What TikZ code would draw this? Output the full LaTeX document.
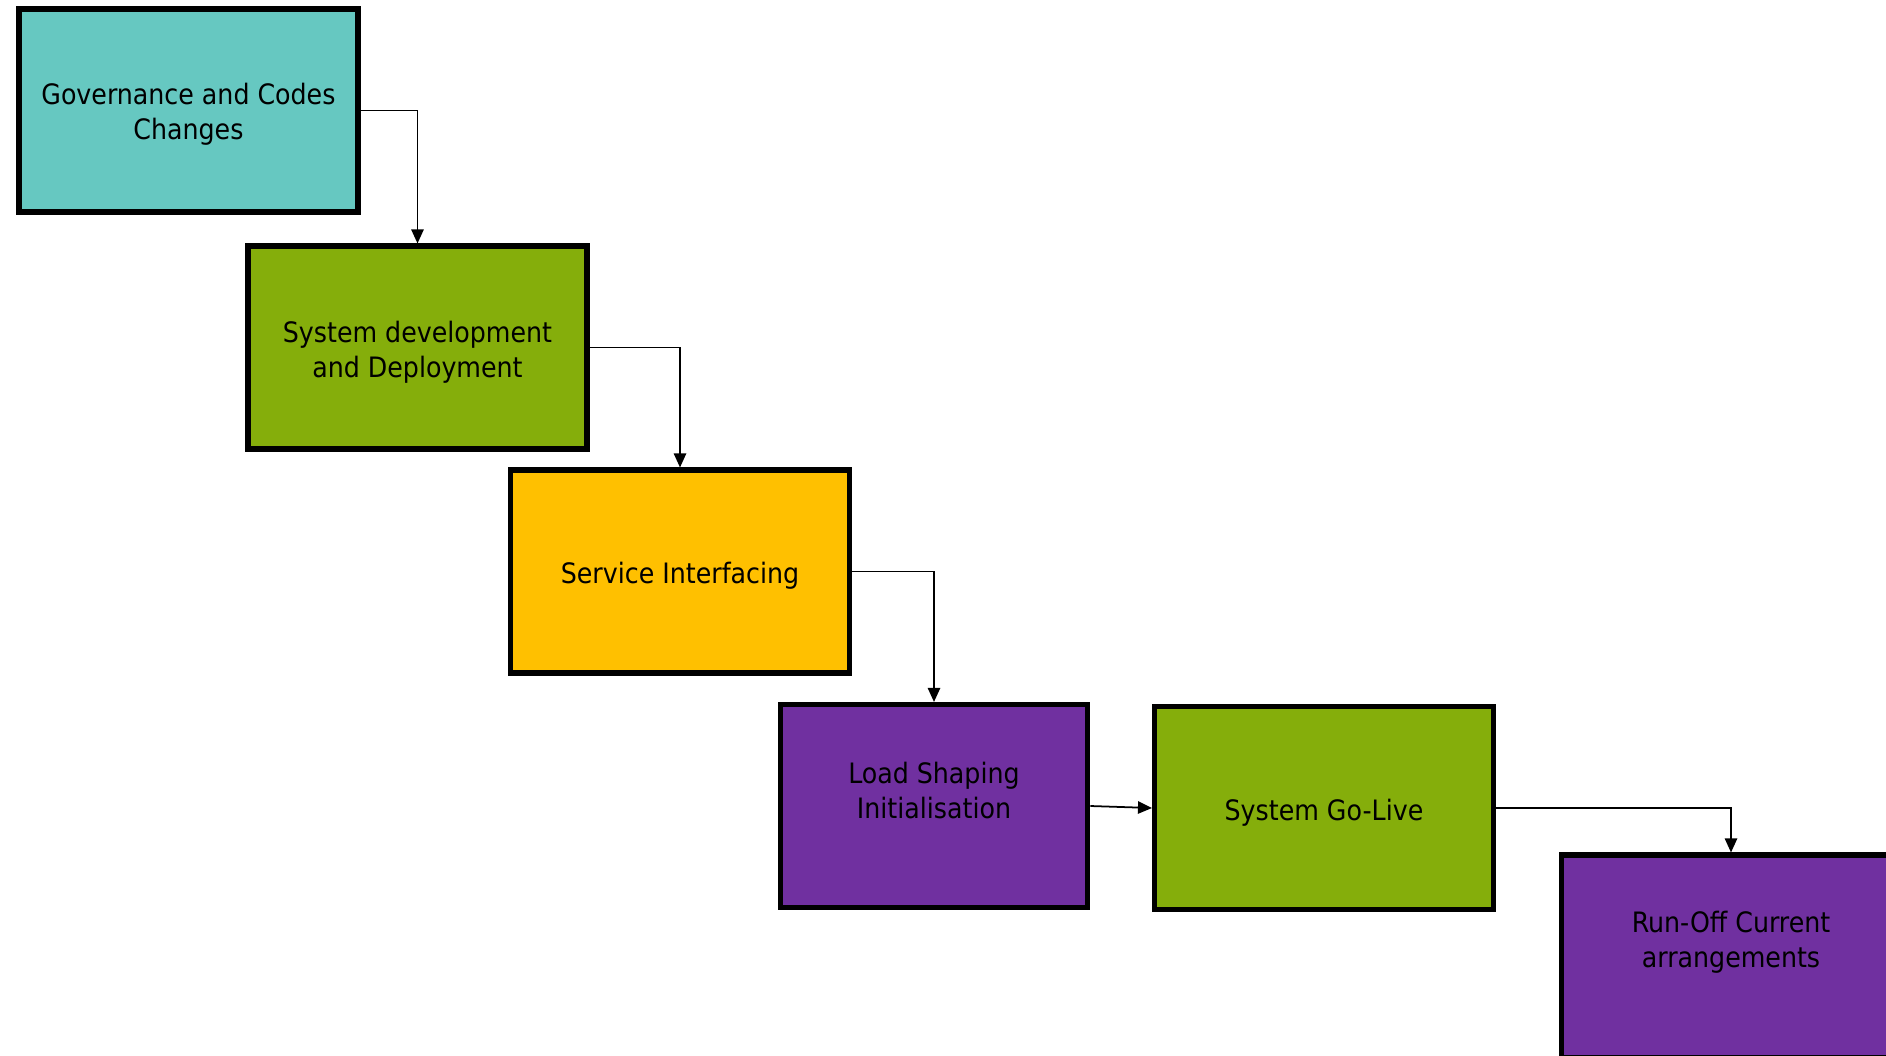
\documentclass[tikz,border=0pt]{standalone}
\usepackage{fontspec}
\setmainfont{DejaVu Sans Condensed}
\usetikzlibrary{arrows.meta}
\definecolor{govteal}{HTML}{66C8C1}
\definecolor{sysgreen}{HTML}{85AE0B}
\definecolor{svcamber}{HTML}{FFC000}
\definecolor{loadpurple}{HTML}{7030A0}

\begin{document}
\begin{tikzpicture}[x=0.02cm, y=-0.02cm,
	stage/.style={shape=rectangle, draw, line width=2.9pt, minimum width=6.78cm, minimum height=4.06cm, inner sep=0pt},
	stagetext/.style={anchor=center, align=center, font=\fontsize{16}{20}\selectfont, inner sep=0pt},
	flow/.style={line width=1pt, -{Triangle[length=8pt, width=7pt]}}]
	\useasboundingbox (0,0) rectangle (1886,1055);
	\clip (0,0) rectangle (1886,1055);
	% Boxes and texts:
	\node[stage, fill=govteal] (gov) at (188.5,110.5){} node[stagetext] (gov-text) at (188.5,114){Governance and Codes\\Changes};
	\node[stage, fill=sysgreen] (sysdev) at (417.5,347.5){} node[stagetext] (sysdev-text) at (417.5,352){System development\\and Deployment};
	\node[stage, fill=svcamber] (service) at (680,571.5){} node[stagetext] (service-text) at (680,575.5){Service Interfacing};
	\node[stage, fill=loadpurple, minimum width=6.15cm] (load) at (934,806){} node[stagetext] (load-text) at (934,790.5){Load Shaping\\Initialisation};
	\node[stage, fill=sysgreen] (golive) at (1324,808){} node[stagetext] (golive-text) at (1324,812.5){System Go-Live};
	\node[stage, fill=loadpurple] (runoff) at (1731,956.5){} node[stagetext] (runoff-text) at (1731,942){Run-Off Current\\arrangements};
	% Connectors:
	\draw[flow] (gov.east) -| (sysdev.north);
	\draw[flow] (sysdev.east) -| (service.north);
	\draw[flow] (service.east) -| (load.north);
	\draw[flow] (load.east) -- (golive.west);
	\draw[flow] (golive.east) -| (runoff.north);
\end{tikzpicture}
\end{document}
